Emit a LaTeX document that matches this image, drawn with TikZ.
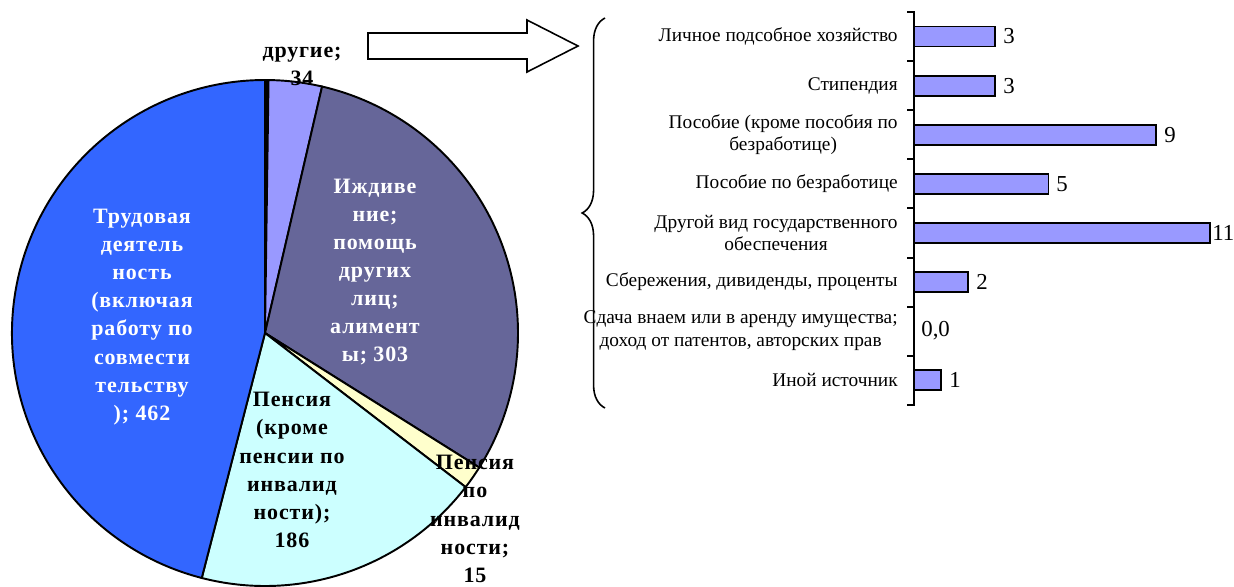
\documentclass[tikz,border=0pt]{standalone}
\usepackage{fontspec}
\setmainfont{Liberation Serif}
\newfontfamily\spaziata[LetterSpace=4]{Liberation Serif}
\usetikzlibrary{decorations.pathreplacing}
\definecolor{blu}{HTML}{3366FF}
\definecolor{viola}{HTML}{666699}
\definecolor{lilla}{HTML}{9999FF}
\definecolor{giallino}{HTML}{FFFFCC}
\definecolor{azzurrino}{HTML}{CCFFFF}
\tikzset{
    spicchio/.style={draw=black, line width=1.1pt},
    etspicchio/.style={font=\spaziata\bfseries\fontsize{12.5}{16}\selectfont, align=center, inner sep=0pt},
    categoria/.style={font=\fontsize{11}{13}\selectfont, align=center, anchor=east, inner sep=0pt},
    valore/.style={font=\fontsize{13}{15}\selectfont, anchor=west, inner sep=0pt},
    barra/.style={draw=black, line width=1.1pt, fill=lilla}
}
\begin{document}
\begin{tikzpicture}[x=0.02cm, y=-0.02cm]
            \useasboundingbox (0, 0) rectangle (1234, 586);
            %torta
            \begin{scope}[shift={(265, 333)}]
                \coordinate (centro) at (0, 0);
                \filldraw[spicchio, fill=black] (centro) -- (-90:253) arc[start angle=-90, end angle=-89.2, radius=253] -- cycle;
                \filldraw[spicchio, fill=lilla] (centro) -- (-89.2:253) arc[start angle=-89.2, end angle=-76.96, radius=253] -- cycle;
                \filldraw[spicchio, fill=viola] (centro) -- (-76.96:253) arc[start angle=-76.96, end angle=32.12, radius=253] -- cycle;
                \filldraw[spicchio, fill=giallino] (centro) -- (32.12:253) arc[start angle=32.12, end angle=37.52, radius=253] -- cycle;
                \filldraw[spicchio, fill=azzurrino] (centro) -- (37.52:253) arc[start angle=37.52, end angle=104.48, radius=253] -- cycle;
                \filldraw[spicchio, fill=blu] (centro) -- (104.48:253) arc[start angle=104.48, end angle=270, radius=253] -- cycle;
            \end{scope}
            %etichette torta
            \node[etspicchio] (altro) at (302, 66) {другие;\\34};
            \node[etspicchio, text=white] (dipendenza) at (375, 272) {Иждиве\\ние;\\помощь\\других\\лиц;\\алимент\\ы; 303};
            \node[etspicchio, text=white] (lavoro) at (142, 317) {Трудовая\\деятель\\ность\\(включая\\работу по\\совмести\\тельству\\); 462};
            \node[etspicchio] (pensione) at (292, 470) {Пенсия\\(кроме\\пенсии по\\инвалид\\ности);\\186};
            \node[etspicchio] (invalidita) at (475, 519) {Пенсия\\по\\инвалид\\ности;\\15};
            %freccia
            \draw[line width=0.9pt, fill=white] (368, 33) -- (527, 33) -- (527, 20) -- (578, 46) -- (527, 72) -- (527, 59) -- (368, 59) -- cycle;
            %graffa
            \draw[line width=0.9pt, decorate, decoration={brace, amplitude=13pt}] (605, 408) -- (605, 18);
            %asse
            \draw[line width=1.1pt] (907, 12) -- (914, 12) -- (914, 405) -- (907, 405);
            \draw[line width=1.1pt] (907, 61) -- (914, 61);
            \draw[line width=1.1pt] (907, 110) -- (914, 110);
            \draw[line width=1.1pt] (907, 159) -- (914, 159);
            \draw[line width=1.1pt] (907, 208) -- (914, 208);
            \draw[line width=1.1pt] (907, 258) -- (914, 258);
            \draw[line width=1.1pt] (907, 307) -- (914, 307);
            \draw[line width=1.1pt] (907, 356) -- (914, 356);
            %barre
            \draw[barra] (914, 26.5) rectangle (994.7, 46.5);
            \draw[barra] (914, 75.6) rectangle (994.7, 95.6);
            \draw[barra] (914, 124.7) rectangle (1156.1, 144.7);
            \draw[barra] (914, 173.9) rectangle (1048.5, 193.9);
            \draw[barra] (914, 223) rectangle (1209.9, 243);
            \draw[barra] (914, 272) rectangle (967.8, 292);
            \draw[barra] (914, 370) rectangle (940.9, 390);
            %valori
            \node[valore] (v1) at (1003, 36.5) {3};
            \node[valore] (v2) at (1003, 85.6) {3};
            \node[valore] (v3) at (1164, 134.7) {9};
            \node[valore] (v4) at (1056, 183.9) {5};
            \node[valore] (v5) at (1212, 233) {11};
            \node[valore] (v6) at (976, 282) {2};
            \node[valore] (v7) at (921, 331) {0,0};
            \node[valore] (v8) at (949, 380) {1};
            %categorie
            \node[categoria] (c1) at (898, 36.5) {Личное подсобное хозяйство};
            \node[categoria] (c2) at (898, 85.6) {Стипендия};
            \node[categoria] (c3) at (898, 134.7) {Пособие (кроме пособия по\\безработице)};
            \node[categoria] (c4) at (898, 183.9) {Пособие по безработице};
            \node[categoria] (c5) at (898, 233) {Другой вид государственного\\обеспечения};
            \node[categoria] (c6) at (898, 282) {Сбережения, дивиденды, проценты};
            \node[categoria] (c7) at (898, 331) {Сдача внаем или в аренду имущества;\\доход от патентов, авторских прав};
            \node[categoria] (c8) at (898, 380) {Иной источник};
\end{tikzpicture}
\end{document}
